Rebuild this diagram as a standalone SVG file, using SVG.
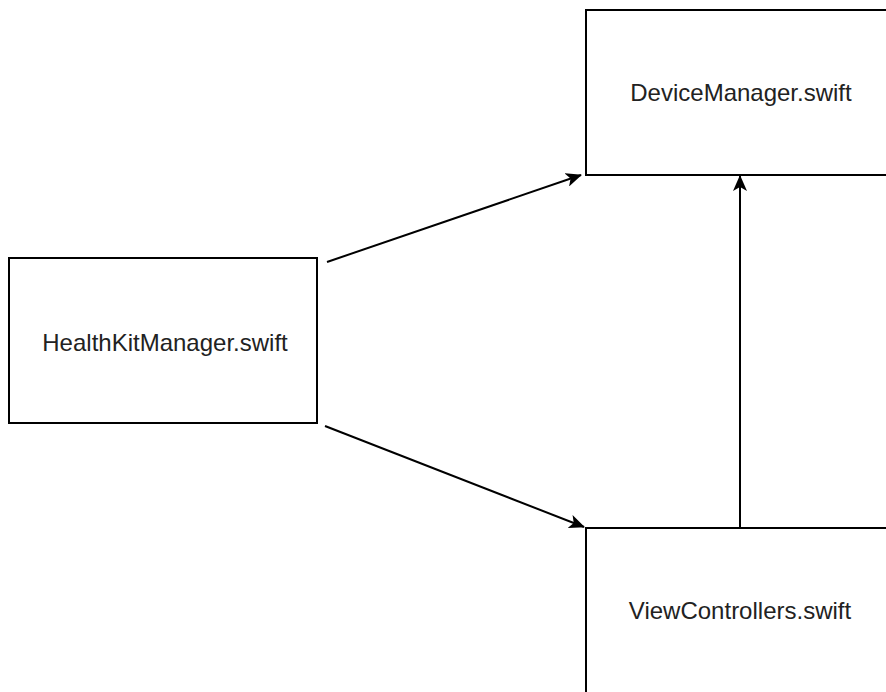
<svg xmlns="http://www.w3.org/2000/svg" width="886" height="692" viewBox="0 0 886 692">
  <style>
    .box { fill: #ffffff; stroke: #000000; stroke-width: 2; }
    .label { font-family: "Liberation Sans", Arial, sans-serif; font-size: 24px; fill: #222222; text-anchor: middle; }
    .conn { stroke: #000000; stroke-width: 2; fill: none; marker-end: url(#arrow); }
  </style>
  <defs>
    <marker id="arrow" markerUnits="userSpaceOnUse" markerWidth="16" markerHeight="14" refX="15" refY="7" orient="auto">
      <path d="M0,0 L16,7 L0,14 L4,7 Z" fill="#000000"/>
    </marker>
  </defs>
  <rect width="886" height="692" fill="#ffffff"/>
  <g id="connectors">
    <line class="conn" x1="327" y1="262" x2="581" y2="175"/>
    <line class="conn" x1="325" y1="426" x2="584" y2="527"/>
    <line class="conn" x1="740" y1="528" x2="740" y2="176"/>
  </g>
  <g id="node-device">
    <rect class="box" x="586" y="10" width="310" height="165"/>
    <text class="label" x="741" y="101">DeviceManager.swift</text>
  </g>
  <g id="node-healthkit">
    <rect class="box" x="9" y="258" width="308" height="165"/>
    <text class="label" x="165" y="351">HealthKitManager.swift</text>
  </g>
  <g id="node-viewcontrollers">
    <rect class="box" x="586" y="528" width="310" height="180"/>
    <text class="label" x="740" y="619">ViewControllers.swift</text>
  </g>
</svg>
